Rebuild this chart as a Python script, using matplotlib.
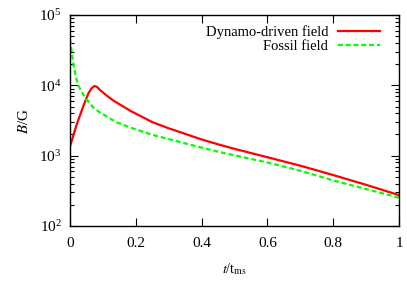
import matplotlib
matplotlib.use("Agg")
import matplotlib.pyplot as plt
from matplotlib.ticker import LogLocator, NullLocator

plt.rcParams['font.family'] = ['Liberation Serif', 'DejaVu Serif']
plt.rcParams['mathtext.fontset'] = 'stix'

t_dynamo = [0.0, 0.02, 0.04, 0.056, 0.065, 0.074, 0.082, 0.091, 0.11, 0.131, 0.185,
            0.25, 0.30, 0.40, 0.45, 0.50, 0.60, 0.70, 0.80, 0.90, 1.0]
B_dynamo = [1350, 2750, 5000, 7700, 9000, 9800, 9500, 8600, 7250, 6100, 4300,
            3000, 2450, 1700, 1450, 1250, 950, 720, 530, 385, 275]

t_fossil = [0.0, 0.004, 0.008, 0.012, 0.018, 0.027, 0.038, 0.05, 0.07, 0.088, 0.11,
            0.14, 0.19, 0.25, 0.30, 0.40, 0.45, 0.50, 0.60, 0.70, 0.80, 0.90, 1.0]
B_fossil = [45000, 33000, 24000, 18000, 13000, 9600, 7700, 6300, 4900, 4200, 3650,
            3000, 2450, 1980, 1720, 1300, 1140, 1010, 800, 610, 445, 335, 253]

label_dynamo = "Dynamo-driven field"
label_fossil = "Fossil field"
x_ticks = [0, 0.2, 0.4, 0.6, 0.8, 1]
x_ticklabels = ["0", "0.2", "0.4", "0.6", "0.8", "1"]

fig = plt.figure(figsize=(4.07, 2.85), dpi=100)
ax = fig.add_axes([70/407, 59/285, 329/407, 211/285])

ax.plot(t_dynamo, B_dynamo, color='#ff0000', lw=1.6, label=label_dynamo)
ax.plot(t_fossil, B_fossil, color='#00ff00', lw=1.6, ls=(0, (2.2, 1.3)), label=label_fossil)

ax.set_yscale('log')
ax.set_xlim(0, 1)
ax.set_ylim(1e2, 1e5)
ax.set_xticks(x_ticks)
ax.set_xticklabels(x_ticklabels)
ax.xaxis.set_minor_locator(NullLocator())
ax.yaxis.set_major_locator(LogLocator(base=10, numticks=10))
ax.yaxis.set_minor_locator(LogLocator(base=10, subs=range(2, 10), numticks=20))

ax.tick_params(which='both', direction='in', top=True, right=True, labelsize=11, width=0.8)
ax.tick_params(which='major', length=6, pad=8)
ax.tick_params(which='minor', length=3)
ax.tick_params(axis='y', which='major', pad=6)
for s in ax.spines.values():
    s.set_linewidth(1.0)

ax.set_xlabel('$t$/t$_{\\rm ms}$', fontsize=10, labelpad=8)
ax.set_ylabel('$B$/G', fontsize=11, labelpad=6)

leg = ax.legend(loc='upper right', bbox_to_anchor=(0.96, 0.98), frameon=False,
                markerfirst=False, fontsize=10.5, handlelength=2.9,
                borderaxespad=0.0, labelspacing=0.06, handletextpad=0.65)

fig.savefig('out.png', dpi=100)
